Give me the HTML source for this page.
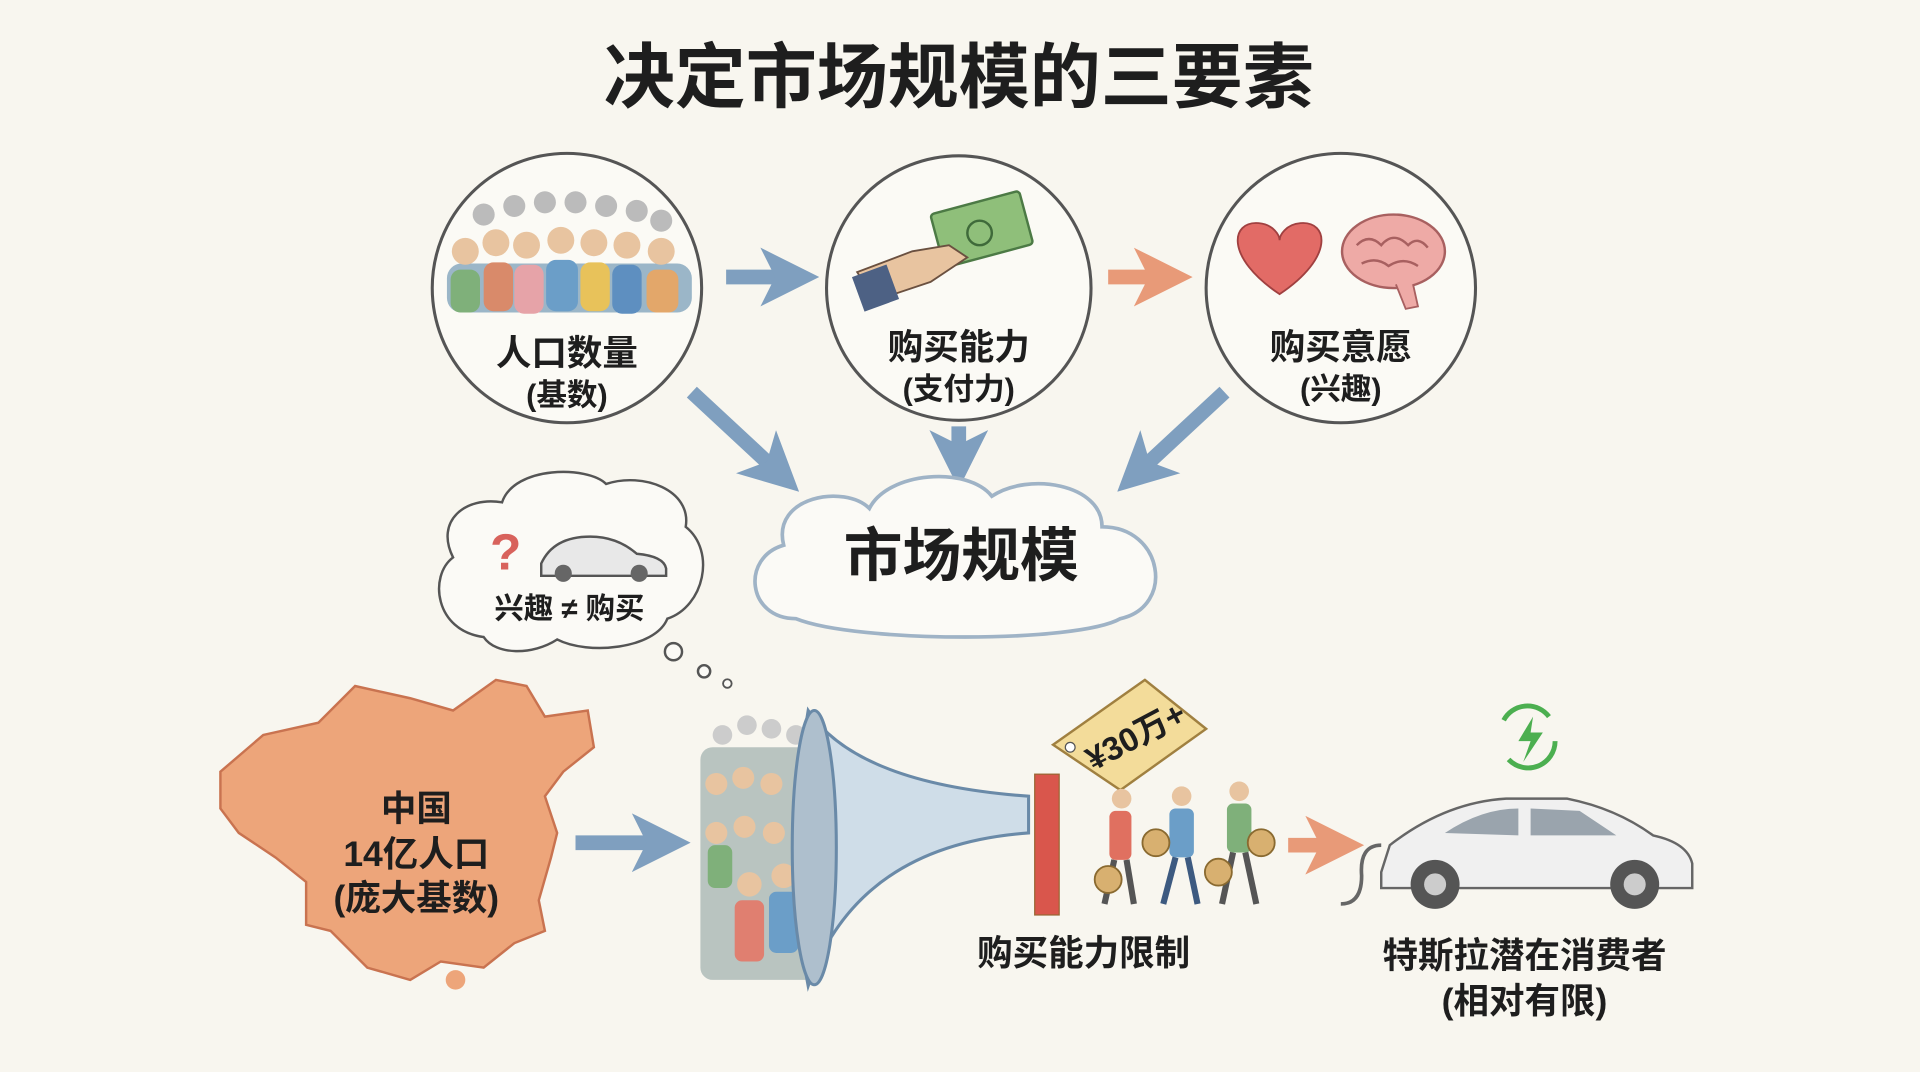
<!DOCTYPE html>
<html><head><meta charset="utf-8"><style>
html,body{margin:0;padding:0;background:#f8f6ef;}
svg{display:block}
text{font-family:"Liberation Sans","Noto Sans CJK SC",sans-serif;font-weight:700;fill:#1e1e1e}
</style></head><body>
<svg width="1920" height="1072" viewBox="0 0 1568 875" xmlns="http://www.w3.org/2000/svg">
<defs>
<marker id="ab" markerWidth="4" markerHeight="4" refX="2" refY="2" orient="auto" markerUnits="strokeWidth"><path d="M0,0 L4,2 L0,4 L1,2z" fill="#7f9fbf"/></marker>
<marker id="ao" markerWidth="4" markerHeight="4" refX="2" refY="2" orient="auto" markerUnits="strokeWidth"><path d="M0,0 L4,2 L0,4 L1,2z" fill="#e89a78"/></marker>
</defs>
<rect width="1568" height="875" fill="#f8f6ef"/>
<text x="783" y="83" font-size="58" text-anchor="middle">决定市场规模的三要素</text>

<!-- circles -->
<g fill="#fbfaf5" stroke="#555" stroke-width="2.5">
<circle cx="463" cy="235" r="110"/><circle cx="783" cy="235" r="108"/><circle cx="1095" cy="235" r="110"/>
</g>
<!-- crowd in circle 1 -->
<g>
<g fill="#bbb"><circle cx="395" cy="175" r="9"/><circle cx="420" cy="168" r="9"/><circle cx="445" cy="165" r="9"/><circle cx="470" cy="165" r="9"/><circle cx="495" cy="168" r="9"/><circle cx="520" cy="172" r="9"/><circle cx="540" cy="180" r="9"/></g>
<rect x="365" y="215" width="200" height="40" rx="12" fill="#9bb6c8"/>
<g fill="#e8c4a0"><circle cx="380" cy="205" r="11"/><circle cx="405" cy="198" r="11"/><circle cx="430" cy="200" r="11"/><circle cx="458" cy="196" r="11"/><circle cx="485" cy="198" r="11"/><circle cx="512" cy="200" r="11"/><circle cx="540" cy="205" r="11"/></g>
<g><rect x="368" y="220" width="24" height="35" rx="8" fill="#7fb07a"/><rect x="395" y="214" width="24" height="40" rx="8" fill="#d98a6a"/><rect x="420" y="216" width="24" height="40" rx="8" fill="#e6a3a8"/><rect x="446" y="212" width="26" height="42" rx="8" fill="#6b9ec8"/><rect x="474" y="214" width="24" height="40" rx="8" fill="#e8c25a"/><rect x="500" y="216" width="24" height="40" rx="8" fill="#5e8fc0"/><rect x="528" y="220" width="26" height="35" rx="8" fill="#e3a76a"/></g>
</g>
<!-- money hand -->
<rect x="765" y="165" width="75" height="45" rx="3" fill="#8fbf7a" stroke="#4c7a45" stroke-width="2" transform="rotate(-15 800 190)"/>
<circle cx="800" cy="190" r="10" fill="none" stroke="#3f6a3a" stroke-width="2"/>
<path d="M700 222 L745 205 L775 200 L790 210 L760 230 L715 245z" fill="#e8c4a0" stroke="#6a5040" stroke-width="1.5"/>
<rect x="700" y="220" width="30" height="30" fill="#4d6184" transform="rotate(-20 715 235)"/>
<!-- heart & brain -->
<path d="M1045 240 C1000 210 1005 180 1028 182 C1040 183 1045 192 1045 196 C1045 192 1050 183 1062 182 C1085 180 1090 210 1045 240z" fill="#e26b66" stroke="#a04040" stroke-width="1.5"/>
<ellipse cx="1138" cy="205" rx="42" ry="30" fill="#eeaaa6" stroke="#a86060" stroke-width="2"/>
<path d="M1108 200 q10 -10 20 0 q10 -12 22 0 q8 -8 16 2 M1112 215 q12 -6 22 2 q12 -8 24 0" fill="none" stroke="#a86060" stroke-width="2"/>
<path d="M1140 232 l8 20 l10 -2 l-4 -18" fill="#eeaaa6" stroke="#a86060" stroke-width="1.5"/>

<g font-size="29" text-anchor="middle">
<text x="463" y="298">人口数量</text><text x="463" y="331" font-size="25">(基数)</text>
<text x="783" y="293">购买能力</text><text x="783" y="326" font-size="25">(支付力)</text>
<text x="1095" y="293">购买意愿</text><text x="1095" y="326" font-size="25">(兴趣)</text>
</g>

<!-- arrows -->
<g stroke-width="12" fill="none">
<line x1="593" y1="226" x2="645" y2="226" stroke="#7f9fbf" marker-end="url(#ab)"/>
<line x1="905" y1="226" x2="950" y2="226" stroke="#e89a78" marker-end="url(#ao)"/>
<line x1="565" y1="320" x2="635" y2="385" stroke="#7f9fbf" marker-end="url(#ab)"/>
<line x1="783" y1="348" x2="783" y2="375" stroke="#7f9fbf" marker-end="url(#ab)"/>
<line x1="1000" y1="320" x2="930" y2="385" stroke="#7f9fbf" marker-end="url(#ab)"/>
<line x1="470" y1="688" x2="540" y2="688" stroke="#7f9fbf" marker-end="url(#ab)"/>
<line x1="1052" y1="690" x2="1090" y2="690" stroke="#e89a78" marker-end="url(#ao)"/>
</g>

<!-- cloud -->
<path d="M650 505 C610 505 605 455 640 445 C630 405 690 395 710 415 C725 385 790 380 810 405 C840 385 900 395 900 430 C950 430 960 495 915 505 C880 525 700 525 650 505z" fill="#fbfaf6" stroke="#9fb3c6" stroke-width="3"/>
<text x="785" y="470" font-size="48" text-anchor="middle">市场规模</text>

<!-- thought bubble -->
<path d="M395 520 C355 515 350 470 370 455 C355 425 380 405 410 410 C420 380 480 380 495 395 C525 385 565 400 560 430 C585 450 575 495 545 505 C535 530 480 535 455 522 C435 535 405 535 395 520z" fill="#fbfaf6" stroke="#555" stroke-width="2"/>
<circle cx="550" cy="532" r="7" fill="#fbfaf6" stroke="#555" stroke-width="2"/>
<circle cx="575" cy="548" r="5" fill="#fbfaf6" stroke="#555" stroke-width="2"/>
<circle cx="594" cy="558" r="3.5" fill="#fbfaf6" stroke="#555" stroke-width="1.5"/>
<text x="413" y="465" font-size="42" fill="#d55" text-anchor="middle" style="fill:#d8625c">?</text>
<path d="M442 460 q10 -22 40 -22 q22 0 38 14 q22 2 24 12 l0 6 l-102 0z" fill="#e8e8e8" stroke="#555" stroke-width="2"/>
<circle cx="460" cy="468" r="7" fill="#666"/><circle cx="522" cy="468" r="7" fill="#666"/>
<text x="465" y="505" font-size="24" text-anchor="middle">兴趣 ≠ 购买</text>

<!-- China map -->
<path d="M180 630 L215 600 L260 590 L290 560 L335 570 L370 580 L405 555 L430 560 L445 585 L480 580 L485 610 L460 630 L445 650 L455 680 L450 700 L440 735 L445 760 L420 770 L395 790 L360 785 L335 800 L300 790 L270 760 L250 755 L250 720 L225 700 L195 680 L180 660z" fill="#eda57a" stroke="#c97350" stroke-width="2"/>
<circle cx="372" cy="800" r="8" fill="#eda57a"/>
<text x="340" y="670" font-size="29" text-anchor="middle">中国</text>
<text x="340" y="707" font-size="29" text-anchor="middle">14亿人口</text>
<text x="340" y="743" font-size="29" text-anchor="middle">(庞大基数)</text>

<!-- funnel crowd -->
<g>
<g fill="#ccc"><circle cx="590" cy="600" r="8"/><circle cx="610" cy="592" r="8"/><circle cx="630" cy="595" r="8"/><circle cx="650" cy="600" r="8"/></g>
<rect x="572" y="610" width="100" height="190" rx="10" fill="#b9c4c0"/>
<g fill="#e8c4a0"><circle cx="585" cy="640" r="9"/><circle cx="607" cy="635" r="9"/><circle cx="630" cy="640" r="9"/><circle cx="585" cy="680" r="9"/><circle cx="608" cy="675" r="9"/><circle cx="632" cy="680" r="9"/><circle cx="612" cy="722" r="10"/><circle cx="640" cy="715" r="10"/></g>
<rect x="600" y="735" width="24" height="50" rx="6" fill="#e07f70"/><rect x="628" y="728" width="24" height="50" rx="6" fill="#6b9ec8"/>
<rect x="578" y="690" width="20" height="35" rx="6" fill="#7fb07a"/><rect x="650" y="690" width="20" height="35" rx="6" fill="#e8c25a"/>
</g>
<path d="M660 580 Q700 640 840 650 L840 680 Q700 690 660 805 Q640 700 660 580z" fill="#cfdde8" stroke="#6a8aa8" stroke-width="2.5"/>
<ellipse cx="665" cy="692" rx="18" ry="112" fill="#aebfcd" stroke="#6a8aa8" stroke-width="2.5"/>
<rect x="845" y="632" width="20" height="115" fill="#d9564c" stroke="#963" stroke-width="1"/>
<path d="M860 608 L935 555 L985 595 L915 645z" fill="#f3dc9a" stroke="#a08040" stroke-width="2"/>
<circle cx="874" cy="610" r="4" fill="#fff" stroke="#555"/>
<text x="928" y="610" font-size="27" text-anchor="middle" transform="rotate(-28 928 602)">¥30万+</text>
<text x="885" y="788" font-size="29" text-anchor="middle">购买能力限制</text>

<!-- walkers -->
<g>
<circle cx="916" cy="652" r="8" fill="#e8c4a0"/><rect x="906" y="662" width="18" height="40" rx="5" fill="#e07060"/><line x1="910" y1="702" x2="902" y2="738" stroke="#555" stroke-width="5"/><line x1="920" y1="702" x2="926" y2="738" stroke="#555" stroke-width="5"/>
<circle cx="965" cy="650" r="8" fill="#e8c4a0"/><rect x="955" y="660" width="20" height="40" rx="5" fill="#6b9ec8"/><line x1="960" y1="700" x2="950" y2="738" stroke="#3d5a80" stroke-width="5"/><line x1="970" y1="700" x2="978" y2="738" stroke="#3d5a80" stroke-width="5"/>
<circle cx="1012" cy="646" r="8" fill="#e8c4a0"/><rect x="1002" y="656" width="20" height="40" rx="5" fill="#7fb07a"/><line x1="1007" y1="696" x2="998" y2="738" stroke="#555" stroke-width="5"/><line x1="1017" y1="696" x2="1026" y2="738" stroke="#555" stroke-width="5"/>
<g fill="#d8b070" stroke="#8a6a30" stroke-width="1.5"><circle cx="905" cy="718" r="11"/><circle cx="944" cy="688" r="11"/><circle cx="995" cy="712" r="11"/><circle cx="1030" cy="688" r="11"/></g>
</g>

<!-- car -->
<path d="M1128 712 L1135 690 Q1180 655 1230 652 L1280 652 Q1320 660 1350 682 Q1378 688 1382 705 L1382 725 L1128 725z" fill="#f0f0f0" stroke="#666" stroke-width="2"/>
<path d="M1180 680 Q1210 660 1240 660 L1240 682z M1250 660 L1290 662 L1320 682 L1250 682z" fill="#9aa4ad"/>
<circle cx="1172" cy="722" r="20" fill="#555"/><circle cx="1172" cy="722" r="9" fill="#ccc"/>
<circle cx="1335" cy="722" r="20" fill="#555"/><circle cx="1335" cy="722" r="9" fill="#ccc"/>
<path d="M1128 690 Q1110 690 1112 715 Q1112 738 1095 738" fill="none" stroke="#666" stroke-width="3"/>
<path d="M1228 588 A22 22 0 0 1 1265 585 M1270 605 A22 22 0 0 1 1232 620" fill="none" stroke="#4caf50" stroke-width="4"/>
<path d="M1252 585 L1240 605 L1250 605 L1244 622 L1260 598 L1250 598z" fill="#4caf50"/>
<text x="1245" y="790" font-size="29" text-anchor="middle">特斯拉潜在消费者</text>
<text x="1245" y="827" font-size="29" text-anchor="middle">(相对有限)</text>
</svg>
</body></html>
